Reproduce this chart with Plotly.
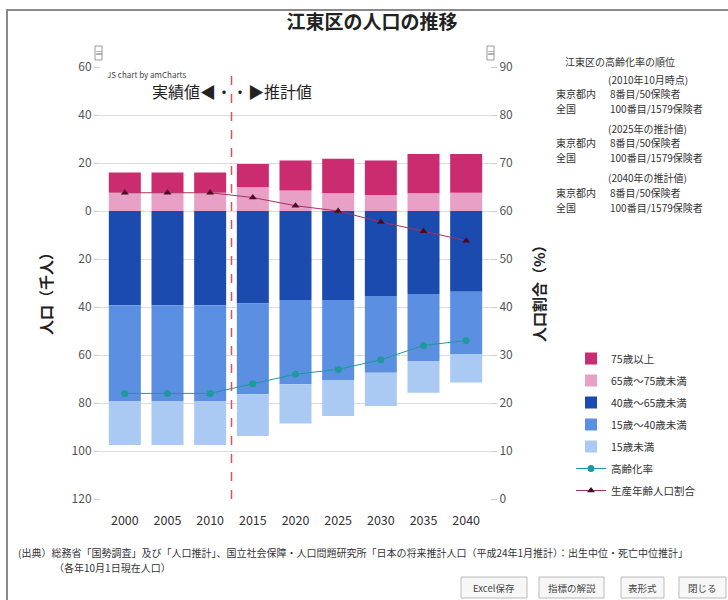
import plotly.graph_objects as go

# ---------------- data ----------------
years = ["2000", "2005", "2010", "2015", "2020", "2025", "2030", "2035", "2040"]
age75plus = [8.4, 8.4, 8.4, 9.7, 12.5, 14.4, 14.3, 16.4, 16.2]      # 75歳以上 (千人)
age65_75 = [7.6, 7.6, 7.6, 9.9, 8.5, 7.4, 6.7, 7.4, 7.6]           # 65歳～75歳未満
age40_65 = [39.3, 39.3, 39.3, 38.5, 37.1, 37.1, 35.4, 34.6, 33.6]  # 40歳～65歳未満
age15_40 = [40.1, 40.1, 40.1, 37.9, 35.1, 33.3, 32.0, 27.9, 26.0]  # 15歳～40歳未満
age0_15 = [18.1, 18.1, 18.1, 17.4, 16.3, 15.0, 13.9, 13.2, 11.9]   # 15歳未満
aging_rate = [22.0, 22.0, 22.0, 24.0, 26.0, 27.0, 29.0, 32.0, 33.0]       # 高齢化率 (%)
working_share = [63.8, 63.8, 63.8, 62.8, 61.1, 60.0, 57.7, 55.8, 53.8]    # 生産年齢人口割合 (%)

left_ticks = [-120, -100, -80, -60, -40, -20, 0, 20, 40, 60]
left_ticktext = [str(abs(v)) for v in left_ticks]

FONT = "Noto Sans CJK JP"

# plot area in pixels
W, H = 728, 600
L, R, T, B = 101, 490, 67, 499


def fx(p):
    return (p - L) / (R - L)


def fy(p):
    return (B - p) / (B - T)


fig = go.Figure()

bar_specs = [
    ("65歳～75歳未満", age65_75, 1, "#E9A0C6", 2),
    ("75歳以上", age75plus, 1, "#CB2B6F", 1),
    ("40歳～65歳未満", age40_65, -1, "#1B4BAE", 3),
    ("15歳～40歳未満", age15_40, -1, "#5B8FE2", 4),
    ("15歳未満", age0_15, -1, "#AACAF3", 5),
]
for name, vals, sign, color, rank in bar_specs:
    fig.add_trace(go.Bar(
        x=years, y=[sign * v for v in vals], name=name,
        marker=dict(color=color, line=dict(width=0)),
        legendrank=rank, legendgroup=name, yaxis="y",
    ))

fig.add_trace(go.Scatter(
    x=years, y=aging_rate, name="高齢化率", mode="lines+markers",
    line=dict(color="#1E9A9C", width=1),
    marker=dict(symbol="circle", size=7, color="#1E9A9C"),
    legendrank=6, legendgroup="高齢化率", yaxis="y2",
))
fig.add_trace(go.Scatter(
    x=years, y=working_share, name="生産年齢人口割合", mode="lines+markers",
    line=dict(color="#A8305E", width=1),
    marker=dict(symbol="triangle-up", size=7, color="#4A0A22"),
    legendrank=7, legendgroup="生産年齢人口割合", yaxis="y2",
))

shapes = [
    # outer frame (top & left visible)
    dict(type="rect", xref="paper", yref="paper",
         x0=fx(7), x1=fx(735), y0=fy(607), y1=fy(10),
         line=dict(color="#8a8a8a", width=2), fillcolor="rgba(0,0,0,0)", layer="below"),
    # dashed divider between actual and projected values
    dict(type="line", xref="x", yref="paper", x0=2.5, x1=2.5, y0=0, y1=1,
         line=dict(color="#E0505A", width=1.5, dash="dash")),
    # small scrollbar grips
    dict(type="rect", xref="paper", yref="paper", x0=fx(95), x1=fx(102), y0=fy(60), y1=fy(46),
         line=dict(color="#999", width=1), fillcolor="white"),
    dict(type="rect", xref="paper", yref="paper", x0=fx(487), x1=fx(494), y0=fy(60), y1=fy(46),
         line=dict(color="#999", width=1), fillcolor="white"),
]

annotations = [
    dict(text="実績値◀・・▶推計値", xref="x", yref="paper", x=2.5, y=fy(91),
         showarrow=False, font=dict(family=FONT, size=16, color="#222"), xanchor="center", yanchor="middle"),
    dict(text="JS chart by amCharts", xref="paper", yref="paper", x=fx(105), y=fy(75),
         showarrow=False, font=dict(family=FONT, size=8, color="#444"), xanchor="left", yanchor="middle"),
    dict(text="<b>人口（千人）</b>", xref="paper", yref="paper", x=fx(45), y=fy(290),
         textangle=-90, showarrow=False, font=dict(family=FONT, size=15, color="#222"),
         xanchor="center", yanchor="middle"),
    dict(text="<b>人口割合（%）</b>", xref="paper", yref="paper", x=fx(538), y=fy(290),
         textangle=-90, showarrow=False, font=dict(family=FONT, size=15, color="#222"),
         xanchor="center", yanchor="middle"),
    dict(text="(出典）総務省「国勢調査」及び「人口推計」、国立社会保障・人口問題研究所「日本の将来推計人口（平成24年1月推計）：出生中位・死亡中位推計」",
         xref="paper", yref="paper", x=fx(16), y=fy(552), showarrow=False,
         font=dict(family=FONT, size=10, color="#333"), xanchor="left", yanchor="middle"),
    dict(text="（各年10月1日現在人口）", xref="paper", yref="paper", x=fx(52), y=fy(567), showarrow=False,
         font=dict(family=FONT, size=10, color="#333"), xanchor="left", yanchor="middle"),
]

# grip glyphs
for gx in (98.5, 490.5):
    annotations.append(dict(text="≡", xref="paper", yref="paper", x=fx(gx), y=fy(53), showarrow=False,
                            font=dict(family=FONT, size=8, color="#777"), xanchor="center", yanchor="middle"))

# ranking side panel
panel = [
    ("江東区の高齢化率の順位", 563, 62),
    ("(2010年10月時点)", 606, 79),
    ("東京都内", 554, 93), ("8番目/50保険者", 608, 93),
    ("全国", 554, 108), ("100番目/1579保険者", 608, 108),
    ("(2025年の推計値)", 606, 128),
    ("東京都内", 554, 142), ("8番目/50保険者", 608, 142),
    ("全国", 554, 157), ("100番目/1579保険者", 608, 157),
    ("(2040年の推計値)", 606, 177),
    ("東京都内", 554, 192), ("8番目/50保険者", 608, 192),
    ("全国", 554, 207), ("100番目/1579保険者", 608, 207),
]
for txt, px_, py_ in panel:
    annotations.append(dict(text=txt, xref="paper", yref="paper", x=fx(px_), y=fy(py_), showarrow=False,
                            font=dict(family=FONT, size=10, color="#333"), xanchor="left", yanchor="middle"))

# buttons
buttons = [("Excel保存", 461, 527), ("指標の解説", 539, 604), ("表形式", 621, 664), ("閉じる", 679, 726)]
for txt, x0, x1 in buttons:
    shapes.append(dict(type="rect", xref="paper", yref="paper", x0=fx(x0), x1=fx(x1), y0=fy(598), y1=fy(577),
                       line=dict(color="#bbbbbb", width=1), fillcolor="#f7f7f7"))
    annotations.append(dict(text=txt, xref="paper", yref="paper", x=fx((x0 + x1) / 2), y=fy(587.5),
                            showarrow=False, font=dict(family=FONT, size=9.5, color="#444"),
                            xanchor="center", yanchor="middle"))

fig.update_layout(
    width=W, height=H,
    margin=dict(l=L, r=W - R, t=T, b=H - B, pad=0),
    paper_bgcolor="white", plot_bgcolor="white",
    barmode="relative", bargap=0.25,
    font=dict(family=FONT, color="#333"),
    title=dict(text="<b>江東区の人口の推移</b>", xref="container", yref="container",
               x=372 / W, y=1 - 22 / H, xanchor="center", yanchor="middle",
               font=dict(family=FONT, size=19, color="#222")),
    xaxis=dict(type="category", categoryorder="array", categoryarray=years,
               showgrid=False, zeroline=False, showline=False,
               ticks="outside", ticklen=10, tickcolor="rgba(0,0,0,0)",
               tickfont=dict(family=FONT, size=12.5, color="#333")),
    yaxis=dict(range=[-120, 60], tickvals=left_ticks, ticktext=left_ticktext,
               showgrid=True, gridcolor="#dcdcdc", gridwidth=1, zeroline=False, showline=False,
               ticks="outside", ticklen=6, tickcolor="#cccccc",
               tickfont=dict(family=FONT, size=12, color="#555")),
    yaxis2=dict(range=[0, 90], dtick=10, overlaying="y", side="right",
                showgrid=False, zeroline=False, showline=False,
                ticks="outside", ticklen=6, tickcolor="#cccccc",
                tickfont=dict(family=FONT, size=12, color="#555")),
    legend=dict(x=fx(571), y=fy(344), xanchor="left", yanchor="top",
                font=dict(family=FONT, size=10.5, color="#333"),
                bgcolor="rgba(0,0,0,0)", traceorder="grouped", tracegroupgap=3,
                itemwidth=30),
    showlegend=True,
    shapes=shapes, annotations=annotations,
)

fig.write_html("out.html", config={"displayModeBar": False},
               post_script="document.body.style.margin='0';document.body.style.overflow='hidden';")
